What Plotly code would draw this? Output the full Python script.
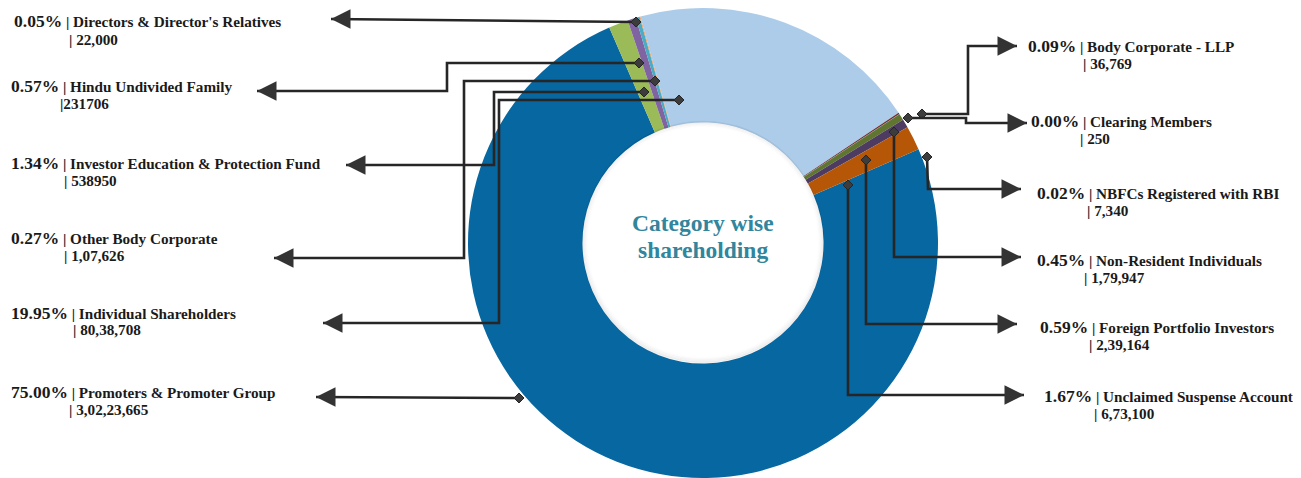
import plotly.graph_objects as go

# ---- data (clockwise order of the slices) ----
categories = [
    "Promoters & Promoter Group",
    "Investor Education & Protection Fund",
    "Hindu Undivided Family",
    "Other Body Corporate",
    "Directors & Director's Relatives",
    "Individual Shareholders",
    "Body Corporate - LLP",
    "Clearing Members",
    "NBFCs Registered with RBI",
    "Non-Resident Individuals",
    "Foreign Portfolio Investors",
    "Unclaimed Suspense Account",
]
shares = [30223665, 538950, 231706, 107626, 22000, 8038708,
          36769, 250, 7340, 179947, 239164, 673100]
pct_text = ["75.00%", "1.34%", "0.57%", "0.27%", "0.05%", "19.95%",
            "0.09%", "0.00%", "0.02%", "0.45%", "0.59%", "1.67%"]
share_text = ["| 3,02,23,665", "| 538950", "|231706", "| 1,07,626", "| 22,000", "| 80,38,708",
              "| 36,769", "| 250", "| 7,340", "| 1,79,947", "| 2,39,164", "| 6,73,100"]
slice_colors = ["#0767A1", "#9BBB59", "#8064A2", "#4BACC6", "#F79646", "#ACCCEA",
                "#772C2A", "#2C4D75", "#4F81BD", "#5F7530", "#4D3B62", "#B65708"]

# page is offset by the default 8px body margin
OFF = 8
W, H = 1301, 478 - OFF
FONT = "Liberation Serif"


def px(x):
    return (x - OFF) / W


def py(y):
    return 1 - (y - OFF) / H


# label placement (page pixels): first line left/centre, second line left/centre,
# leader polyline from the diamond to the arrow tip
label_layout = {
    "Directors & Director's Relatives": dict(l1=(13, 21), l2=(68, 40), path=[(636, 22), (331, 19)]),
    "Hindu Undivided Family": dict(l1=(10, 86), l2=(59, 103), path=[(639, 63), (447, 63), (447, 91), (257, 91)]),
    "Investor Education & Protection Fund": dict(l1=(10, 163), l2=(63, 180), path=[(644, 92), (494, 92), (494, 165), (346, 165)]),
    "Other Body Corporate": dict(l1=(10, 238), l2=(63, 255), path=[(655, 81), (464, 81), (464, 258), (274, 258)]),
    "Individual Shareholders": dict(l1=(10, 313), l2=(72, 329), path=[(679, 100), (499, 100), (499, 323), (323, 323)]),
    "Promoters & Promoter Group": dict(l1=(10, 392), l2=(68, 409), path=[(519, 398), (316, 397)]),
    "Body Corporate - LLP": dict(l1=(1027, 46), l2=(1082, 64), path=[(922, 114), (968, 114), (968, 46), (1017, 46)]),
    "Clearing Members": dict(l1=(1030, 121), l2=(1079, 138), path=[(908, 118), (966, 118), (966, 123), (1027, 123)]),
    "NBFCs Registered with RBI": dict(l1=(1036, 193), l2=(1086, 210), path=[(927, 157), (928, 189), (1021, 189)]),
    "Non-Resident Individuals": dict(l1=(1036, 260), l2=(1083, 277), path=[(894, 132), (894, 257), (1021, 257)]),
    "Foreign Portfolio Investors": dict(l1=(1039, 327), l2=(1088, 344), path=[(866, 160), (866, 324), (1017, 324)]),
    "Unclaimed Suspense Account": dict(l1=(1043, 396), l2=(1093, 413), path=[(848, 185), (848, 395), (1024, 395)]),
}

CX, CY, R = 703, 243, 235

fig = go.Figure()

fig.add_trace(go.Pie(
    labels=categories,
    values=shares,
    marker=dict(colors=slice_colors, line=dict(width=0)),
    hole=0.513,
    sort=False,
    direction="clockwise",
    rotation=66.5,
    textinfo="none",
    showlegend=False,
    domain=dict(x=[px(CX - R), px(CX + R)], y=[py(CY + R), py(CY - R)]),
))

shapes = []
annotations = []

# soft inner shadow of the hole
for i, a in enumerate([0.06, 0.045, 0.03, 0.018, 0.008]):
    r = 120.5 - i * 1.2
    shapes.append(dict(type="circle", xref="paper", yref="paper",
                       x0=px(CX - r), x1=px(CX + r), y0=py(CY - 1 + r), y1=py(CY - 1 - r),
                       line=dict(color=f"rgba(0,0,0,{a})", width=1.6)))

for cat, pct, sh in zip(categories, pct_text, share_text):
    lay = label_layout[cat]
    pts = lay["path"]
    d = "M " + " L ".join(f"{px(x):.5f},{py(y):.5f}" for x, y in pts)
    shapes.append(dict(type="path", path=d, xref="paper", yref="paper", layer="above",
                       line=dict(color="#262626", width=2.6)))
    # diamond at the slice end
    dx, dy = pts[0]
    s = 5
    dpath = (f"M {px(dx - s):.5f},{py(dy):.5f} L {px(dx):.5f},{py(dy - s):.5f} "
             f"L {px(dx + s):.5f},{py(dy):.5f} L {px(dx):.5f},{py(dy + s):.5f} Z")
    shapes.append(dict(type="path", path=dpath, xref="paper", yref="paper", layer="above",
                       fillcolor="#3C3C3C", line=dict(color="#262626", width=1)))
    # arrow head at the label end
    tx, ty = pts[-1]
    px_prev, _ = pts[-2]
    back = 16 if px_prev > tx else -16
    annotations.append(dict(x=px(tx), y=py(ty), xref="paper", yref="paper",
                            ax=back, ay=0, text="", showarrow=True,
                            arrowhead=2, arrowsize=1.5, arrowwidth=2.6,
                            arrowcolor="#333333"))
    # label text
    x1, y1 = lay["l1"]
    annotations.append(dict(
        x=px(x1), y=py(y1), xref="paper", yref="paper", xanchor="left", yanchor="middle",
        showarrow=False, borderpad=0,
        text=f"<span style='font-size:17.5px'>{pct}</span> | {cat}",
        font=dict(family=FONT, size=15.2, color="#1A1A1A", weight="bold")))
    x2, y2 = lay["l2"]
    annotations.append(dict(
        x=px(x2), y=py(y2), xref="paper", yref="paper", xanchor="left", yanchor="middle",
        showarrow=False, borderpad=0, text=sh,
        font=dict(family=FONT, size=15.2, color="#1A1A1A", weight="bold")))

# centre title, two lines
for txt, ty in [("Category wise", 223), ("shareholding", 250)]:
    annotations.append(dict(
        x=px(CX), y=py(ty), xref="paper", yref="paper", xanchor="center", yanchor="middle",
        showarrow=False, text=txt, borderpad=0,
        font=dict(family=FONT, size=23.5, color="#31859C", weight="bold")))

fig.update_layout(
    width=W,
    height=H,
    margin=dict(l=0, r=0, t=0, b=0),
    paper_bgcolor="white",
    plot_bgcolor="white",
    shapes=shapes,
    annotations=annotations,
)

fig.write_html("out.html")
